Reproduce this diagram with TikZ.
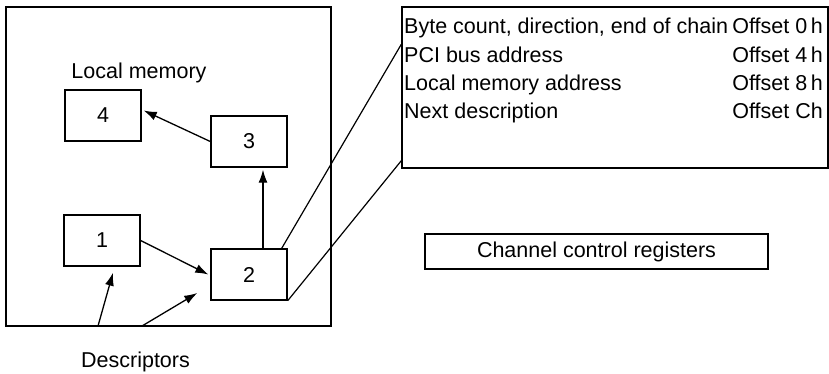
\documentclass[tikz,border=0pt]{standalone}
\usepackage{fontspec}
\setmainfont{Liberation Sans}
\usetikzlibrary{arrows.meta, positioning, calc}

\tikzset{
  blk/.style={draw, line width=1.4pt, minimum width=76pt, minimum height=51pt, inner sep=0pt},
  ptr/.style={line width=1.3pt, -{Latex[length=13pt,width=9pt]}},
  lnk/.style={line width=1.2pt},
  txt/.style={inner sep=0pt},
}

\begin{document}
\begin{tikzpicture}[x=1pt, y=-1pt, font=\fontsize{21.5}{26}\selectfont]
    \useasboundingbox (0,0) rectangle (829,373);

    % Local memory board
    \node[draw, line width=1.5pt, minimum width=325pt, minimum height=319pt, inner sep=0pt] (board) at (168.5,166.5) {};
    \node[txt, anchor=base] (lmem) at (139,78) {Local memory};
    \node[txt, anchor=base] (descr) at (135.5,367) {Descriptors};

    % Descriptor chain
    \node[blk] (n4) at (103,115.5) {4};
    \node[blk] (n3) at (249,141.5) {3};
    \node[blk] (n1) at (102,240.5) {1};
    \node[blk] (n2) at (249,274.5) {2};

    \draw[ptr] (n3.west) -- ($(n4.east)+(2,-5)$);
    \draw[ptr] (n1.east) -- ($(n2.west)+(-2,0)$);
    \draw[ptr] ($(n2.north)+(14,0)$) -- ($(n3.south)+(14,2)$);

    % Pointers from the descriptor area
    \coordinate (d1) at (98,326);
    \coordinate (d2) at (142,326);
    \draw[ptr] (d1) -- ($(n1.south)+(11,6)$);
    \draw[ptr] (d2) -- ($(n2.west)+(-13,18.5)$);

    % Descriptor layout
    \node[draw, line width=1.4pt, minimum width=426pt, minimum height=161pt, inner sep=0pt] (desc) at (615,87.5) {};
    \node[txt, anchor=base west] (r1) at (404,33) {Byte count, direction, end of chain};
    \node[txt, anchor=base west] (r2) at (404,62) {PCI bus address};
    \node[txt, anchor=base west] (r3) at (404,90) {Local memory address};
    \node[txt, anchor=base west] (r4) at (404,118) {Next description};
    \node[txt, anchor=base east] (o1) at (823,33) {Offset 0\,h};
    \node[txt, anchor=base east] (o2) at (823,62) {Offset 4\,h};
    \node[txt, anchor=base east] (o3) at (823,90) {Offset 8\,h};
    \node[txt, anchor=base east] (o4) at (823,118) {Offset Ch};

    \draw[lnk] ($(n2.north east)+(-6,0)$) -- ($(desc.north west)+(0,38)$);
    \draw[lnk] (n2.south east) -- ($(desc.south west)+(0,-8)$);

    % Registers
    \node[draw, line width=1.4pt, minimum width=343pt, minimum height=35pt, inner sep=0pt] (regs) at (596.5,251.5) {Channel control registers};
\end{tikzpicture}
\end{document}
